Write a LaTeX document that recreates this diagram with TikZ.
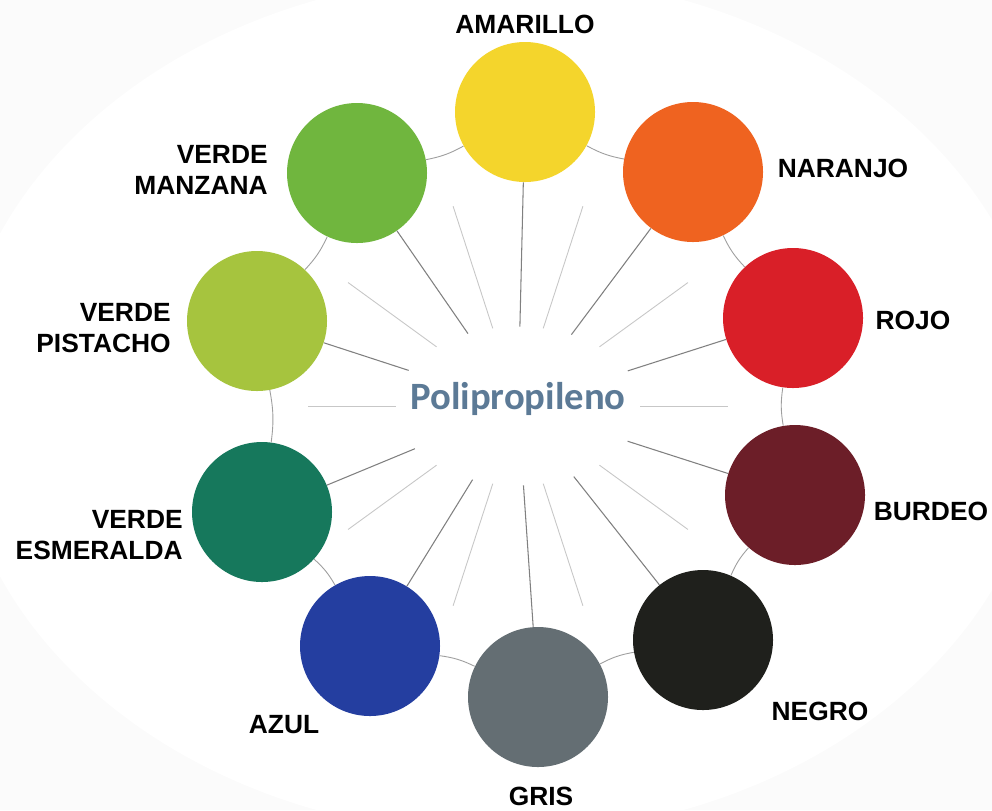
\documentclass[tikz,border=0pt]{standalone}
\usepackage{fontspec}
\setmainfont{Liberation Sans}
\newfontfamily\calibri{Carlito}
\definecolor{pp_amarillo}{RGB}{244, 213, 44}
\definecolor{pp_naranjo}{RGB}{239, 99, 32}
\definecolor{pp_rojo}{RGB}{217, 31, 40}
\definecolor{pp_burdeo}{RGB}{108, 30, 40}
\definecolor{pp_negro}{RGB}{31, 32, 28}
\definecolor{pp_gris}{RGB}{100, 110, 115}
\definecolor{pp_azul}{RGB}{36, 62, 160}
\definecolor{pp_esmeralda}{RGB}{22, 120, 92}
\definecolor{pp_pistacho}{RGB}{166, 196, 62}
\definecolor{pp_manzana}{RGB}{112, 182, 62}
\definecolor{pp_title}{RGB}{92, 122, 150}
\usepackage{tikz}
\usetikzlibrary{shapes.geometric}

\begin{document}
\begin{tikzpicture}[x=0.2mm, y=-0.2mm,
    disc/.style={circle, minimum size=28mm, inner sep=0pt},
    lab/.style={font=\fontsize{15}{18}\selectfont\bfseries, inner sep=0pt, align=right},
    ring/.style={draw=black!38, line width=0.5pt},
    ray/.style={draw=black!50, line width=0.6pt},
    faint/.style={draw=black!22, line width=0.5pt}]
  \useasboundingbox (0,0) rectangle (992,810);
  \fill[black!1.5] (0,0) rectangle (992,810);
  \fill[white] (500,405) ellipse (545 and 430);

  % hub and title
  \node[ellipse, minimum width=48.8mm, minimum height=31.6mm, inner sep=0pt] (hub) at (518,406) {};
  \node[font=\calibri\bfseries\fontsize{22}{26}\selectfont, text=pp_title] (title) at (518,399) {Polipropileno};

  % discs
  \node[disc, fill=pp_amarillo] (amarillo) at (525,112) {};
  \node[disc, fill=pp_naranjo] (naranjo) at (693,172) {};
  \node[disc, fill=pp_rojo] (rojo) at (793,318) {};
  \node[disc, fill=pp_burdeo] (burdeo) at (795,495) {};
  \node[disc, fill=pp_negro] (negro) at (703,640) {};
  \node[disc, fill=pp_gris] (gris) at (538,697) {};
  \node[disc, fill=pp_azul] (azul) at (370,646) {};
  \node[disc, fill=pp_esmeralda] (esmeralda) at (262,512) {};
  \node[disc, fill=pp_pistacho] (pistacho) at (257,321) {};
  \node[disc, fill=pp_manzana] (manzana) at (357,173) {};

  % labels
  \node[lab] (l_amarillo) at (525,24) {AMARILLO};
  \node[lab] (l_naranjo) at (843,168) {NARANJO};
  \node[lab] (l_rojo) at (913,320) {ROJO};
  \node[lab] (l_burdeo) at (931,511) {BURDEO};
  \node[lab] (l_negro) at (820,711) {NEGRO};
  \node[lab] (l_gris) at (541,796) {GRIS};
  \node[lab] (l_azul) at (284,725) {AZUL};
  \node[lab, anchor=east] (l_esmeralda) at (183,535) {VERDE\\ESMERALDA};
  \node[lab, anchor=east] (l_pistacho) at (171,328) {VERDE\\PISTACHO};
  \node[lab, anchor=east] (l_manzana) at (268,170) {VERDE\\MANZANA};

  % ring between neighbours
  \foreach \a/\b in {amarillo/naranjo, naranjo/rojo, rojo/burdeo, burdeo/negro,
      negro/gris, gris/azul, azul/esmeralda, esmeralda/pistacho,
      pistacho/manzana, manzana/amarillo}
    \draw[ring] (\a) to[bend right=9] (\b);

  % spokes
  \foreach \c in {amarillo, naranjo, rojo, burdeo, negro, gris, azul,
      esmeralda, pistacho, manzana}
    \draw[ray] (hub) -- (\c);
  \foreach \a in {0,36,...,324} {
    \path (hub.center) ++(\a:210) coordinate (tip\a);
    \draw[faint] (hub) -- (tip\a);
  }
\end{tikzpicture}
\end{document}
